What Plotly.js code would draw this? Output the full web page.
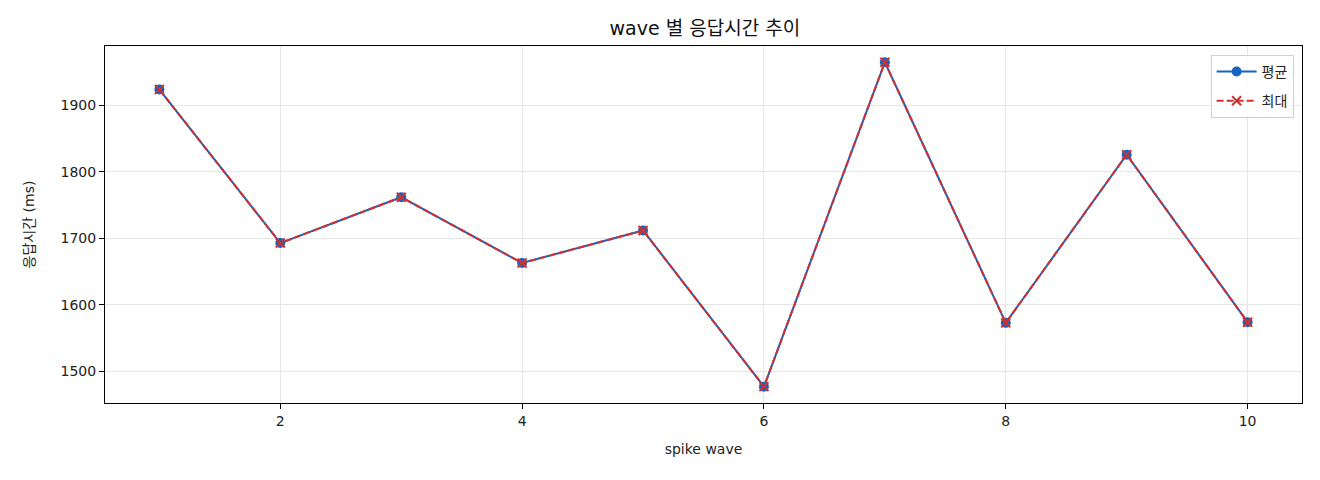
<!DOCTYPE html>
<html>
<head>
<meta charset="utf-8">
<script src="https://cdn.plot.ly/plotly-3.0.1.min.js"></script>
<style>
  body { margin: 0; background: #fff; }
  #chart { width: 1320px; height: 480px; }
</style>
</head>
<body>
<div id="chart"></div>
<script>
// wave 번호와 응답시간 (ms)
var waves = [1, 2, 3, 4, 5, 6, 7, 8, 9, 10];
var avgMs = [1924, 1693, 1762, 1663, 1712, 1477, 1965, 1573, 1826, 1574];
var maxMs = [1924, 1693, 1762, 1663, 1712, 1477, 1965, 1573, 1826, 1574];
var xTicks = [2, 4, 6, 8, 10];
var yTicks = [1500, 1600, 1700, 1800, 1900];

var font = "'DejaVu Sans', 'Noto Sans CJK KR', sans-serif";

var avgTrace = {
    x: waves,
    y: avgMs,
    name: "평균",
    legendgroup: "avg",
    type: "scatter",
    mode: "lines+markers",
    line: {color: "#1565c0", width: 2},
    marker: {symbol: "circle", size: 10, color: "#1565c0"}
};

var maxTrace = {
    x: waves,
    y: maxMs,
    name: "최대",
    legendgroup: "max",
    type: "scatter",
    mode: "lines+markers",
    line: {color: "#d32f2f", width: 2, dash: "7px,3px"},
    marker: {symbol: "x-thin", size: 9, line: {color: "#d32f2f", width: 2}}
};

var axisCommon = {
    showline: true,
    mirror: true,
    linecolor: "#000",
    linewidth: 1,
    ticks: "outside",
    ticklen: 5,
    tickcolor: "#000",
    showgrid: true,
    gridcolor: "#e6e6e6",
    gridwidth: 1,
    zeroline: false,
    tickfont: {family: font, size: 14, color: "#222"}
};

var layout = {
    width: 1320,
    height: 480,
    margin: {l: 105, r: 18, t: 46, b: 77},
    paper_bgcolor: "#fff",
    plot_bgcolor: "#fff",
    font: {family: font, color: "#222"},
    title: {text: "wave 별 응답시간 추이", font: {family: font, size: 19, color: "#111"},
            x: 0.534, xanchor: "center", y: 0.94, yanchor: "middle"},
    xaxis: Object.assign({}, axisCommon, {
        range: [0.55, 10.45],
        tickvals: xTicks,
        title: {text: "spike wave", font: {family: font, size: 14}, standoff: 16}
    }),
    yaxis: Object.assign({}, axisCommon, {
        range: [1452.4, 1989.5],
        tickvals: yTicks,
        title: {text: "응답시간 (ms)", font: {family: font, size: 14}, standoff: 22}
    }),
    showlegend: true,
    legend: {
        x: 0.993, y: 0.975, xanchor: "right", yanchor: "top",
        bgcolor: "rgba(255,255,255,0.8)",
        bordercolor: "#d0d0d0",
        borderwidth: 1,
        font: {family: font, size: 14, color: "#222"},
        traceorder: "grouped",
        tracegroupgap: 8,
        itemwidth: 40
    }
};

Plotly.newPlot("chart", [avgTrace, maxTrace], layout, {displayModeBar: false, staticPlot: true});
</script>
</body>
</html>
